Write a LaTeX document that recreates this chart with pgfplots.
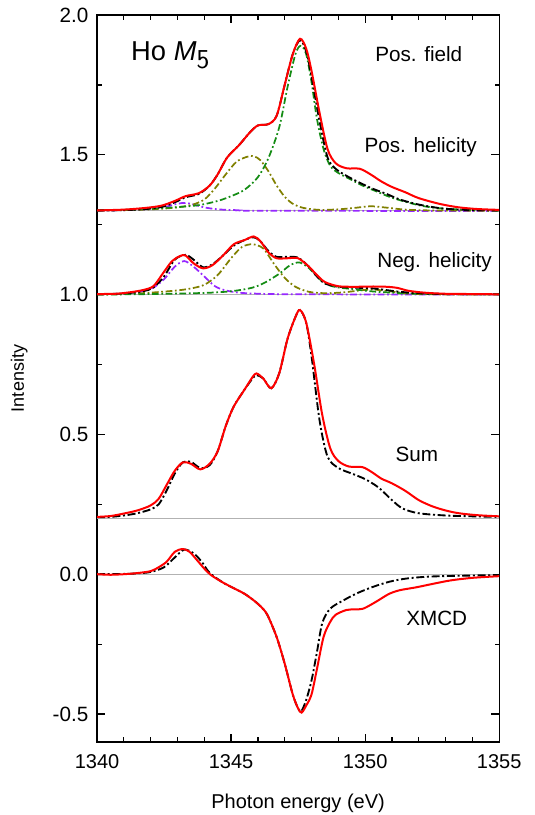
\documentclass[border=0pt]{standalone}
\usepackage{pgfplots}
\pgfplotsset{compat=1.18}
\usepackage{fontspec}
\setmainfont{Liberation Sans}
\definecolor{fitgreen}{RGB}{20,140,20}
\definecolor{fitolive}{RGB}{128,128,0}
\definecolor{fitviolet}{RGB}{150,40,255}
\tikzset{
  dd/.style={dash pattern=on 6pt off 2pt on 1.5pt off 2pt},
  ddc/.style={dash pattern=on 5pt off 2pt on 1.3pt off 2pt},
}
\begin{document}
\begin{tikzpicture}
\useasboundingbox (-72.75pt,-54.75pt) rectangle (327.75pt,556.25pt);
\begin{axis}[
  at={(0,0)}, anchor=south west,
  scale only axis,
  width=301.5pt, height=545pt,
  xmin=1340, xmax=1355, ymin=-0.6, ymax=2.0,
  xtick={1340,1345,1350,1355},
  ytick={-0.5,0,0.5,1,1.5,2},
  minor x tick num=4, minor y tick num=1,
  tick align=inside, tick pos=both,
  major tick length=6pt, minor tick length=3.5pt,
  every tick/.style={black, line width=0.9pt},
  axis line style={line width=1pt},
  /pgf/number format/assume math mode=true,
  xticklabel style={/pgf/number format/1000 sep={}, font=\fontsize{15}{17}\selectfont, yshift=-6pt},
  yticklabel style={/pgf/number format/fixed, /pgf/number format/fixed zerofill, /pgf/number format/precision=1, font=\fontsize{15.5}{17}\selectfont, xshift=-3pt},
  xlabel={Photon energy (eV)},
  ylabel={Intensity},
  xlabel style={font=\fontsize{15}{17}\selectfont, yshift=-12pt},
  ylabel style={font=\fontsize{13.5}{15}\selectfont, yshift=12pt},
  every axis plot/.append style={smooth, tension=0.5},
  clip=true,
]
% baselines
\addplot[gray!60, line width=0.7pt, sharp plot] coordinates {(1340,1.3)(1355,1.3)};
\addplot[gray!60, line width=0.7pt, sharp plot] coordinates {(1340,1.0)(1355,1.0)};
\addplot[gray!60, line width=0.7pt, sharp plot] coordinates {(1340,0.2)(1355,0.2)};
\addplot[gray!60, line width=0.7pt, sharp plot] coordinates {(1340,0)(1355,0)};

% --- positive helicity components ---
\addplot[fitviolet, line width=1.3pt, ddc] coordinates {(1340,1.3)(1341,1.302)(1342,1.306)(1342.6,1.315)(1343.0,1.325)(1343.3,1.328)(1343.6,1.322)(1344.0,1.312)(1344.5,1.305)(1345.2,1.302)(1346,1.3)(1355,1.299)};
\addplot[fitolive, line width=1.3pt, ddc] coordinates {(1340,1.301)(1341,1.302)(1342,1.305)(1342.8,1.31)(1343.5,1.32)(1344.0,1.34)(1344.4,1.38)(1344.8,1.43)(1345.2,1.475)(1345.6,1.493)(1345.85,1.495)(1346.1,1.48)(1346.4,1.44)(1346.7,1.39)(1347.0,1.35)(1347.3,1.325)(1347.7,1.31)(1348.3,1.303)(1349.0,1.305)(1349.6,1.31)(1350.2,1.316)(1350.8,1.311)(1351.5,1.304)(1352.5,1.301)(1355,1.3)};
\addplot[fitgreen, line width=1.3pt, ddc] coordinates {(1340,1.301)(1341,1.303)(1342,1.307)(1343,1.313)(1343.8,1.32)(1344.5,1.335)(1345.0,1.352)(1345.5,1.375)(1346.0,1.42)(1346.4,1.49)(1346.8,1.6)(1347.1,1.74)(1347.4,1.86)(1347.6,1.89)(1347.8,1.86)(1348.0,1.76)(1348.2,1.63)(1348.45,1.52)(1348.7,1.46)(1349.0,1.435)(1349.4,1.415)(1349.9,1.39)(1350.4,1.37)(1350.9,1.35)(1351.5,1.332)(1352.2,1.316)(1353,1.307)(1354,1.303)(1355,1.301)};
\addplot[black, line width=1.4pt, dd] coordinates {(1340,1.301)(1341,1.302)(1341.8,1.306)(1342.4,1.313)(1342.9,1.33)(1343.3,1.348)(1343.8,1.36)(1344.2,1.39)(1344.5,1.43)(1344.85,1.49)(1345.3,1.535)(1345.7,1.58)(1346.0,1.605)(1346.4,1.61)(1346.7,1.64)(1347.0,1.75)(1347.3,1.86)(1347.57,1.91)(1347.8,1.87)(1348.0,1.78)(1348.3,1.62)(1348.6,1.49)(1348.9,1.45)(1349.3,1.425)(1349.8,1.40)(1350.3,1.378)(1350.8,1.36)(1351.3,1.34)(1352.0,1.322)(1352.8,1.309)(1353.5,1.304)(1354.2,1.302)(1355,1.301)};
\addplot[red, line width=1.5pt] coordinates {(1340,1.301)(1341,1.304)(1341.8,1.31)(1342.4,1.318)(1342.9,1.335)(1343.3,1.352)(1343.8,1.363)(1344.2,1.39)(1344.5,1.43)(1344.85,1.49)(1345.3,1.535)(1345.7,1.58)(1346.0,1.605)(1346.4,1.61)(1346.7,1.64)(1347.0,1.75)(1347.3,1.86)(1347.57,1.915)(1347.8,1.88)(1348.0,1.80)(1348.3,1.65)(1348.6,1.52)(1348.9,1.47)(1349.3,1.452)(1349.8,1.45)(1350.2,1.43)(1350.6,1.405)(1351.0,1.385)(1351.5,1.366)(1352.0,1.345)(1352.8,1.324)(1353.5,1.312)(1354.2,1.306)(1355,1.303)};

% --- negative helicity components ---
\addplot[fitviolet, line width=1.3pt, ddc] coordinates {(1340,1.001)(1341,1.004)(1341.7,1.012)(1342.1,1.025)(1342.5,1.055)(1342.9,1.1)(1343.25,1.12)(1343.6,1.1)(1344.0,1.065)(1344.4,1.03)(1344.8,1.015)(1345.4,1.006)(1346.5,1.002)(1348,1.001)(1355,1.0)};
\addplot[fitolive, line width=1.3pt, ddc] coordinates {(1340,1.0)(1341,1.002)(1342,1.007)(1343,1.015)(1343.5,1.022)(1344,1.035)(1344.5,1.07)(1345.0,1.13)(1345.4,1.17)(1345.8,1.18)(1346.2,1.165)(1346.6,1.11)(1347.0,1.06)(1347.4,1.028)(1347.9,1.01)(1348.5,1.005)(1349.2,1.008)(1349.8,1.015)(1350.3,1.018)(1350.9,1.012)(1351.6,1.004)(1352.5,1.001)(1355,1.0)};
\addplot[fitgreen, line width=1.3pt, ddc] coordinates {(1340,1.0)(1342,1.002)(1344,1.006)(1345,1.012)(1345.8,1.025)(1346.3,1.045)(1346.8,1.075)(1347.2,1.105)(1347.55,1.115)(1347.9,1.095)(1348.2,1.065)(1348.5,1.04)(1348.9,1.027)(1349.5,1.02)(1350.2,1.012)(1351,1.007)(1352,1.003)(1355,1.001)};
\addplot[black, line width=1.4pt, dd] coordinates {(1340,1.001)(1341,1.004)(1341.7,1.012)(1342.1,1.025)(1342.5,1.065)(1342.9,1.125)(1343.3,1.142)(1343.6,1.125)(1343.95,1.098)(1344.3,1.108)(1344.7,1.14)(1345.1,1.175)(1345.5,1.195)(1345.85,1.205)(1346.1,1.19)(1346.4,1.155)(1346.7,1.135)(1347.1,1.135)(1347.5,1.132)(1347.9,1.10)(1348.2,1.065)(1348.5,1.04)(1349.0,1.028)(1349.6,1.025)(1350.3,1.022)(1350.8,1.016)(1351.3,1.01)(1352,1.005)(1353,1.002)(1355,1.001)};
\addplot[red, line width=1.5pt] coordinates {(1340,1.002)(1340.7,1.003)(1341.2,1.008)(1341.7,1.016)(1342.1,1.03)(1342.45,1.075)(1342.8,1.12)(1343.1,1.138)(1343.3,1.14)(1343.6,1.112)(1343.95,1.094)(1344.3,1.105)(1344.7,1.14)(1345.1,1.18)(1345.5,1.195)(1345.85,1.208)(1346.1,1.19)(1346.4,1.15)(1346.7,1.13)(1347.1,1.13)(1347.5,1.13)(1347.9,1.10)(1348.2,1.07)(1348.5,1.045)(1349.0,1.03)(1349.6,1.028)(1350.3,1.029)(1350.8,1.028)(1351.2,1.024)(1351.6,1.014)(1352.2,1.007)(1353,1.003)(1354,1.002)(1355,1.001)};

% --- sum ---
\addplot[black, line width=1.4pt, dd] coordinates {(1340,0.204)(1340.5,0.205)(1341,0.21)(1341.5,0.218)(1342.0,0.232)(1342.3,0.25)(1342.6,0.3)(1342.9,0.36)(1343.2,0.4)(1343.5,0.402)(1343.85,0.38)(1344.2,0.39)(1344.5,0.44)(1344.8,0.53)(1345.1,0.6)(1345.5,0.66)(1345.8,0.7)(1345.95,0.712)(1346.2,0.7)(1346.5,0.665)(1346.8,0.72)(1347.1,0.84)(1347.4,0.92)(1347.57,0.945)(1347.8,0.9)(1348.0,0.78)(1348.3,0.55)(1348.6,0.42)(1349.0,0.38)(1349.5,0.36)(1350.0,0.34)(1350.5,0.31)(1351.0,0.265)(1351.4,0.235)(1352.0,0.218)(1353,0.21)(1354,0.207)(1355,0.205)};
\addplot[red, line width=1.5pt] coordinates {(1340,0.205)(1340.5,0.208)(1341,0.217)(1341.5,0.228)(1342.0,0.246)(1342.3,0.27)(1342.6,0.32)(1342.9,0.37)(1343.2,0.4)(1343.5,0.395)(1343.85,0.375)(1344.2,0.395)(1344.5,0.44)(1344.8,0.53)(1345.1,0.6)(1345.5,0.66)(1345.8,0.705)(1345.95,0.718)(1346.2,0.7)(1346.5,0.665)(1346.8,0.72)(1347.1,0.84)(1347.4,0.92)(1347.57,0.945)(1347.8,0.9)(1348.1,0.75)(1348.4,0.57)(1348.7,0.45)(1349.0,0.405)(1349.4,0.385)(1349.9,0.383)(1350.3,0.362)(1350.6,0.342)(1351.0,0.325)(1351.5,0.298)(1352.0,0.265)(1352.5,0.243)(1353.0,0.228)(1353.5,0.218)(1354.2,0.211)(1355,0.207)};

% --- XMCD ---
\addplot[black, line width=1.4pt, dd] coordinates {(1340,0)(1341,0.001)(1341.5,0.003)(1342.0,0.008)(1342.5,0.025)(1342.9,0.06)(1343.25,0.088)(1343.6,0.075)(1343.9,0.045)(1344.2,0.005)(1344.7,-0.03)(1345.1,-0.05)(1345.5,-0.07)(1345.85,-0.094)(1346.1,-0.115)(1346.35,-0.145)(1346.7,-0.225)(1347.0,-0.32)(1347.3,-0.43)(1347.5,-0.48)(1347.62,-0.49)(1347.8,-0.45)(1348.0,-0.38)(1348.2,-0.28)(1348.4,-0.175)(1348.7,-0.123)(1349.2,-0.093)(1349.7,-0.068)(1350.3,-0.045)(1350.9,-0.027)(1351.5,-0.016)(1352.3,-0.009)(1353.3,-0.006)(1355,-0.003)};
\addplot[red, line width=1.5pt] coordinates {(1340,0)(1340.5,-0.002)(1341,0.0)(1341.5,0.004)(1342.0,0.011)(1342.3,0.025)(1342.6,0.045)(1342.9,0.08)(1343.2,0.09)(1343.45,0.08)(1343.75,0.048)(1344.0,0.02)(1344.25,-0.003)(1344.7,-0.03)(1345.1,-0.05)(1345.5,-0.07)(1345.85,-0.094)(1346.1,-0.115)(1346.35,-0.145)(1346.7,-0.225)(1347.0,-0.32)(1347.3,-0.43)(1347.5,-0.48)(1347.63,-0.495)(1347.8,-0.47)(1348.0,-0.43)(1348.2,-0.34)(1348.45,-0.224)(1348.7,-0.17)(1348.9,-0.145)(1349.3,-0.128)(1349.6,-0.126)(1349.9,-0.124)(1350.2,-0.11)(1350.5,-0.093)(1350.9,-0.07)(1351.3,-0.057)(1351.9,-0.047)(1352.5,-0.035)(1353.2,-0.022)(1354,-0.013)(1355,-0.007)};

% labels
\node[anchor=west, font=\fontsize{20.5}{22}\selectfont] at (axis cs:1341.1,1.855) {Ho \textit{M}$_{\textsf{\fontsize{20.5}{22}\selectfont 5}}$};
\node[font=\fontsize{15.5}{17}\selectfont] at (axis cs:1352.0,1.86) {Pos. field};
\node[font=\fontsize{15.5}{17}\selectfont] at (axis cs:1352.07,1.526) {Pos. helicity};
\node[font=\fontsize{15.5}{17}\selectfont] at (axis cs:1352.59,1.115) {Neg. helicity};
\node[font=\fontsize{15.5}{17}\selectfont] at (axis cs:1351.93,0.4286) {Sum};
\node[font=\fontsize{15.5}{17}\selectfont] at (axis cs:1352.67,-0.158) {XMCD};
\end{axis}
\end{tikzpicture}
\end{document}
